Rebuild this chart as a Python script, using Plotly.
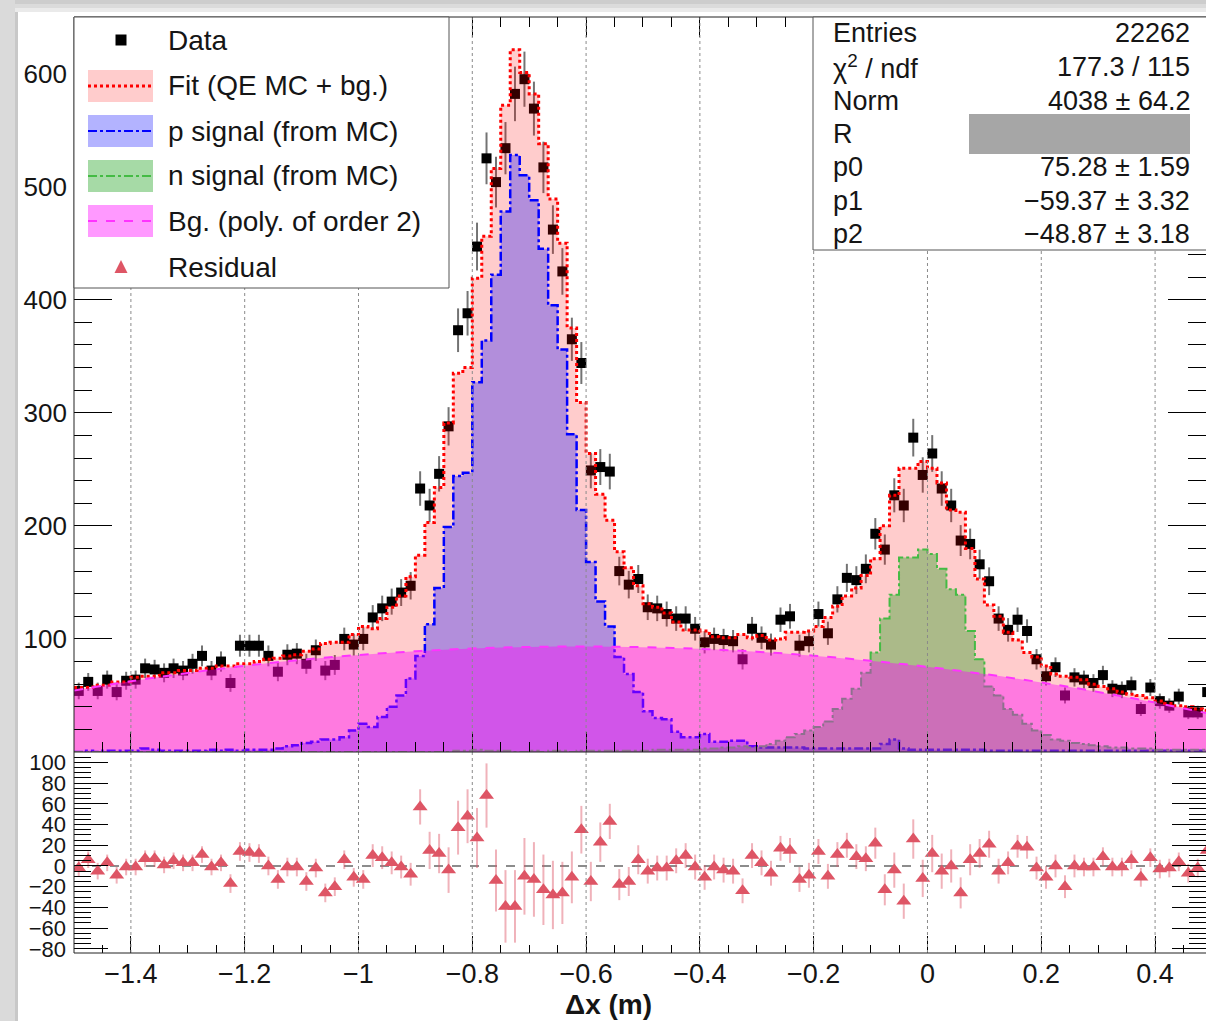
import numpy as np
import plotly.graph_objects as go

# ---------------- data ----------------
XMIN, XMAX, NBINS = -1.5, 0.5, 120
X_VIEW_MAX = 0.4895

DATA = [54, 62, 54, 64, 53, 63, 64, 74, 73, 70,
        74, 72, 78, 85, 72, 80, 61, 94, 94, 94,
        85, 71, 86, 87, 78, 90, 72, 77, 100, 95,
        100, 119, 127, 133, 141, 147, 233, 218, 246, 288,
        373, 388, 447, 525, 504, 534, 582, 595, 569, 517,
        462, 425, 365, 344, 249, 252, 248, 160, 148, 153,
        128, 127, 122, 118, 118, 109, 97, 100, 99, 98,
        82, 109, 101, 95, 117, 120, 94, 98, 122, 105,
        135, 154, 152, 162, 193, 179, 227, 218, 278, 245,
        264, 233, 218, 187, 184, 166, 151, 118, 108, 117,
        107, 82, 67, 75, 50, 66, 64, 61, 68, 56,
        55, 59, 38, 57, 45, 41, 49, 35, 35, 53]

FIT = [57, 57, 59, 59, 62, 62, 66, 67, 67, 70,
       70, 72, 72, 74, 74, 76, 76, 78, 78, 80,
       82, 83, 85, 86, 89, 91, 96, 97, 97, 104,
       111, 109, 118, 128, 138, 155, 174, 203, 234, 291,
       335, 340, 419, 456, 516, 572, 621, 601, 582, 538,
       489, 450, 375, 309, 264, 228, 205, 177, 163, 147,
       131, 128, 123, 115, 108, 108, 107, 102, 101, 101,
       104, 101, 103, 99, 100, 106, 106, 107, 111, 119,
       129, 138, 145, 156, 171, 200, 227, 251, 251, 257,
       251, 238, 214, 212, 180, 153, 130, 120, 106, 99,
       88, 84, 76, 69, 67, 66, 64, 60, 58, 56,
       53, 51, 50, 48, 45, 43, 41, 40, 38, 37]

P_SIG = [0, 1, 0, 1, 1, 1, 1, 3, 2, 1,
         1, 1, 1, 1, 2, 1, 2, 1, 2, 2,
         2, 3, 5, 6, 8, 9, 11, 11, 13, 19,
         25, 22, 31, 40, 50, 65, 85, 113, 145, 199,
         244, 247, 327, 364, 422, 478, 528, 510, 488, 445,
         395, 356, 281, 214, 168, 133, 111, 84, 69, 53,
         36, 30, 29, 18, 13, 13, 16, 9, 9, 10,
         10, 5, 4, 4, 4, 4, 4, 3, 3, 3,
         3, 3, 3, 3, 3, 7, 11, 3, 2, 2,
         2, 2, 2, 2, 2, 2, 1, 1, 1, 1,
         1, 1, 1, 1, 1, 1, 1, 1, 1, 1,
         1, 1, 1, 1, 1, 1, 1, 1, 1, 1]

N_SIG = [0, 0, 0, 0, 0, 0, 0, 0, 0, 0,
         0, 0, 0, 0, 0, 0, 0, 0, 0, 0,
         0, 0, 0, 0, 0, 0, 0, 0, 0, 0,
         0, 0, 0, 0, 0, 0, 0, 0, 0, 0,
         1, 1, 2, 1, 1, 1, 0, 0, 1, 0,
         1, 1, 0, 1, 1, 1, 1, 1, 1, 1,
         1, 2, 2, 2, 2, 2, 3, 3, 4, 4,
         5, 4, 5, 7, 10, 13, 16, 19, 22, 27,
         38, 47, 56, 70, 88, 118, 139, 172, 172, 179,
         175, 162, 144, 139, 107, 82, 58, 50, 38, 33,
         25, 19, 15, 11, 10, 8, 7, 6, 5, 4,
         4, 3, 3, 3, 2, 2, 2, 2, 2, 2]

# background (2nd order polynomial)
BG_X = [-1.5, -1.4, -1.3, -1.2, -1.1, -1.0, -0.9, -0.8, -0.7, -0.6, -0.5,
        -0.4, -0.3, -0.2, -0.1, 0.0, 0.1, 0.2, 0.3, 0.4, 0.5]
BG_Y = [54.4, 62.6, 69.9, 76.2, 81.5, 85.8, 89.1, 91.5, 92.9, 93.3, 92.7,
        91.2, 88.7, 85.2, 80.7, 75.3, 68.9, 61.5, 53.1, 43.7, 33.4]

RESID = [-2, 6, -5, 3, -9, -1, -1, 7, 7, 1,
         5, 3, 3, 11, -1, 3, -17, 14, 13, 12,
         0, -13, -1, -1, -15, -2, -26, -20, 6, -11,
         -13, 10, 8, 3, -1, -8, 57, 15, 12, -4,
         37, 48, 27, 68, -14, -39, -39, -10, -13, -23,
         -28, -26, -11, 35, -15, 23, 43, -18, -15, 6,
         -5, -2, -2, 5, 10, -1, -11, -1, -4, -5,
         -24, 10, 3, -7, 17, 15, -13, -9, 14, -10,
         11, 20, 9, 7, 22, -23, -4, -34, 26, -12,
         12, -5, 0, -26, 6, 12, 21, -5, 3, 19,
         18, -2, -11, 0, -20, 0, -1, -1, 9, -1,
         -1, 6, -11, 8, -3, -2, 4, -7, -2, 15]

RESID_ERR = [8, 8, 8, 8, 8, 8, 8, 8, 8, 8,
             8, 8, 8, 8, 8, 8, 9, 9, 9, 9,
             9, 9, 9, 9, 9, 9, 9, 9, 9, 9,
             9, 11, 11, 11, 11, 11, 17, 18, 19, 22,
             26, 26, 29, 31, 30, 35, 35, 37, 36, 34,
             33, 30, 25, 23, 19, 19, 17, 15, 14, 14,
             12, 12, 12, 12, 12, 12, 12, 12, 12, 12,
             12, 12, 12, 12, 12, 12, 12, 12, 12, 12,
             12, 12, 12, 12, 15, 15, 17, 17, 19, 18,
             18, 17, 16, 15, 15, 14, 13, 12, 11, 11,
             11, 11, 11, 11, 11, 11, 9, 9, 9, 9,
             9, 9, 9, 9, 9, 9, 9, 9, 9, 9]

X_TICKS = [-1.4, -1.2, -1.0, -0.8, -0.6, -0.4, -0.2, 0.0, 0.2, 0.4]
X_TICK_LABELS = ["\u22121.4", "\u22121.2", "\u22121", "\u22120.8", "\u22120.6",
                 "\u22120.4", "\u22120.2", "0", "0.2", "0.4"]
Y_TICKS_MAIN = [100, 200, 300, 400, 500, 600]
Y_TICK_LABELS_MAIN = ["100", "200", "300", "400", "500", "600"]
Y_TICKS_RES = [-80, -60, -40, -20, 0, 20, 40, 60, 80, 100]
Y_TICK_LABELS_RES = ["\u221280", "\u221260", "\u221240", "\u221220", "0",
                     "20", "40", "60", "80", "100"]

LEGEND_LABELS = ["Data", "Fit (QE MC + bg.)", "p signal (from MC)",
                 "n signal (from MC)", "Bg. (poly. of order 2)", "Residual"]
STATS_LABELS = ["Entries", "\u03c7<sup>2</sup> / ndf", "Norm", "R", "p0", "p1", "p2"]
STATS_VALUES = ["22262", "177.3 / 115", "4038 \u00b1 64.2", "",
                "75.28 \u00b1 1.59", "\u221259.37 \u00b1 3.32", "\u221248.87 \u00b1 3.18"]
X_TITLE = "\u0394x (m)"

# ---------------- geometry ----------------
L_PX, R_PX, T_PX, B_PX = 74, 1206, 17, 953
SPLIT_PX = 752
W_PX, H_PX = R_PX - L_PX, B_PX - T_PX


def xp(px):
    return (px - L_PX) / W_PX


def yp(py):
    return (B_PX - py) / H_PX


MAIN_Y0 = yp(SPLIT_PX)

bw = (XMAX - XMIN) / NBINS
centers = XMIN + (np.arange(NBINS) + 0.5) * bw
edges = XMIN + np.arange(NBINS + 1) * bw


def step_y(vals):
    return list(vals) + [vals[-1]]


FONT = "Liberation Sans, Arial, Helvetica, sans-serif"
TXT = "#151515"

fig = go.Figure()

# data (drawn first, fills are semi-transparent on top like the original)
fig.add_trace(go.Scatter(
    x=centers, y=DATA, mode="markers",
    marker=dict(symbol="square", size=10, color="black"),
    error_y=dict(type="data", array=np.sqrt(np.array(DATA, dtype=float)),
                 color="rgba(0,0,0,0.55)", thickness=2, width=0),
    xaxis="x", yaxis="y", showlegend=False))

fig.add_trace(go.Scatter(
    x=edges, y=step_y(FIT), mode="lines", line_shape="hv",
    line=dict(color="#FF0000", width=3, dash="dot"),
    fill="tozeroy", fillcolor="rgba(255,0,0,0.2)",
    xaxis="x", yaxis="y", showlegend=False))

fig.add_trace(go.Scatter(
    x=edges, y=step_y(P_SIG), mode="lines", line_shape="hv",
    line=dict(color="#0000FF", width=2.5, dash="dashdot"),
    fill="tozeroy", fillcolor="rgba(0,0,255,0.3)",
    xaxis="x", yaxis="y", showlegend=False))

fig.add_trace(go.Scatter(
    x=edges, y=step_y(N_SIG), mode="lines", line_shape="hv",
    line=dict(color="#44BB44", width=2, dash="dashdot"),
    fill="tozeroy", fillcolor="rgba(0,150,0,0.33)",
    xaxis="x", yaxis="y", showlegend=False))

fig.add_trace(go.Scatter(
    x=BG_X, y=BG_Y, mode="lines",
    line=dict(color="#FF33FF", width=2, dash="dash", shape="spline"),
    fill="tozeroy", fillcolor="rgba(255,0,255,0.4)",
    xaxis="x", yaxis="y", showlegend=False))

# residual panel
fig.add_trace(go.Scatter(
    x=[XMIN, XMAX], y=[0, 0], mode="lines",
    line=dict(color="#8C8C8C", width=2, dash="dash"),
    xaxis="x2", yaxis="y2", showlegend=False))

fig.add_trace(go.Scatter(
    x=centers, y=RESID, mode="markers",
    marker=dict(symbol="triangle-up", size=13, color="#DE5565"),
    error_y=dict(type="data", array=RESID_ERR,
                 color="rgba(222,85,101,0.45)", thickness=2, width=0),
    xaxis="x2", yaxis="y2", showlegend=False))

shapes = []
# page shadow (left and top)
shapes.append(dict(type="rect", xref="paper", yref="paper",
                   x0=xp(0), x1=xp(15), y0=yp(1021), y1=yp(0),
                   fillcolor="#DADADA", line=dict(width=0), layer="above"))
shapes.append(dict(type="rect", xref="paper", yref="paper",
                   x0=xp(15), x1=xp(18), y0=yp(1021), y1=yp(0),
                   fillcolor="#C8C8C8", line=dict(width=0), layer="above"))
for (a, b, c) in [(0, 4, "#CDCDCD"), (4, 8, "#DBDBDB"), (8, 12, "#EAEAEA")]:
    shapes.append(dict(type="rect", xref="paper", yref="paper",
                       x0=xp(15), x1=xp(1206), y0=yp(b), y1=yp(a),
                       fillcolor=c, line=dict(width=0), layer="above"))

# vertical grid (above the fills, like ROOT)
for xv in X_TICKS:
    for yr in ("y domain", "y2 domain"):
        shapes.append(dict(type="line", xref="x" if yr == "y domain" else "x2",
                           yref=yr, x0=xv, x1=xv, y0=0, y1=1,
                           line=dict(color="#8A8A8A", width=1, dash="dot"),
                           layer="above"))

# frame
FR = dict(color="#222222", width=1)
shapes.append(dict(type="line", xref="paper", yref="paper", x0=0, x1=0, y0=0, y1=1, line=FR, layer="above"))
shapes.append(dict(type="line", xref="paper", yref="paper", x0=0, x1=1, y0=1, y1=1, line=FR, layer="above"))
shapes.append(dict(type="line", xref="paper", yref="paper", x0=0, x1=1, y0=0, y1=0, line=FR, layer="above"))
shapes.append(dict(type="line", xref="paper", yref="paper", x0=0, x1=1, y0=MAIN_Y0, y1=MAIN_Y0, line=FR, layer="above"))

# legend box
shapes.append(dict(type="rect", xref="paper", yref="paper",
                   x0=xp(74), x1=xp(449), y0=yp(288), y1=yp(17),
                   fillcolor="white", line=dict(color="#555555", width=1), layer="above"))
ROW_Y = [40, 86, 131, 176, 221, 267]
PATCHES = [None,
           ("#FFCCCC", "#FF0000", "dot", 3),
           ("#B3B3FF", "#0000FF", "dashdot", 2),
           ("#A6DAA6", "#44BB44", "dashdot", 2),
           ("#FF99FF", "#FF33FF", "dash", 2),
           None]
for i, pat in enumerate(PATCHES):
    if pat is None:
        continue
    fc, lc, ds, lw = pat
    yc = ROW_Y[i]
    shapes.append(dict(type="rect", xref="paper", yref="paper",
                       x0=xp(88), x1=xp(153), y0=yp(yc + 16), y1=yp(yc - 16),
                       fillcolor=fc, line=dict(width=0), layer="above"))
    shapes.append(dict(type="line", xref="paper", yref="paper",
                       x0=xp(88), x1=xp(153), y0=yp(yc), y1=yp(yc),
                       line=dict(color=lc, width=lw, dash=ds), layer="above"))
# data marker in legend
shapes.append(dict(type="rect", xref="paper", yref="paper",
                   x0=xp(115.5), x1=xp(126.5), y0=yp(ROW_Y[0] + 5.5), y1=yp(ROW_Y[0] - 5.5),
                   fillcolor="black", line=dict(width=0), layer="above"))
# residual marker in legend
ty = ROW_Y[5]
shapes.append(dict(type="path", xref="paper", yref="paper",
                   path="M {} {} L {} {} L {} {} Z".format(
                       xp(114.5), yp(ty + 6), xp(127.5), yp(ty + 6), xp(121), yp(ty - 7)),
                   fillcolor="#DE5565", line=dict(width=0), layer="above"))

# stats box
shapes.append(dict(type="rect", xref="paper", yref="paper",
                   x0=xp(813), x1=xp(1230), y0=yp(250), y1=yp(17),
                   fillcolor="white", line=dict(color="#555555", width=1), layer="above"))
shapes.append(dict(type="rect", xref="paper", yref="paper",
                   x0=xp(969), x1=xp(1190), y0=yp(154), y1=yp(114),
                   fillcolor="#A6A6A6", line=dict(width=0), layer="above"))

annotations = []
for i, lab in enumerate(LEGEND_LABELS):
    annotations.append(dict(xref="paper", yref="paper", x=xp(166), y=yp(ROW_Y[i]),
                            text=lab, showarrow=False, xanchor="left", yanchor="middle",
                            font=dict(family=FONT, size=28, color=TXT)))
STAT_Y = [33, 67, 101, 134, 167, 201, 234]
for i, (lab, val) in enumerate(zip(STATS_LABELS, STATS_VALUES)):
    annotations.append(dict(xref="paper", yref="paper", x=xp(831), y=yp(STAT_Y[i]),
                            text=lab, showarrow=False, xanchor="left", yanchor="middle",
                            font=dict(family=FONT, size=27, color=TXT)))
    if val:
        annotations.append(dict(xref="paper", yref="paper", x=xp(1192), y=yp(STAT_Y[i]),
                                text=val, showarrow=False, xanchor="right", yanchor="middle",
                                font=dict(family=FONT, size=27, color=TXT)))
annotations.append(dict(xref="paper", yref="paper", x=xp(608), y=yp(1004),
                        text="<b>" + X_TITLE + "</b>", showarrow=False,
                        xanchor="center", yanchor="middle",
                        font=dict(family=FONT, size=28, color=TXT)))

AX = dict(showgrid=False, zeroline=False, showline=False, tickcolor="black",
          tickwidth=1, ticks="inside")

fig.update_layout(
    width=1206, height=1021,
    margin=dict(l=L_PX, r=0, t=T_PX, b=1021 - B_PX, pad=0),
    paper_bgcolor="white", plot_bgcolor="white",
    showlegend=False,
    font=dict(family=FONT, color=TXT),
    xaxis=dict(AX, domain=[0, 1], range=[XMIN, X_VIEW_MAX], anchor="y",
               showticklabels=False, tickmode="array", tickvals=X_TICKS,
               ticklen=20, mirror="allticks",
               minor=dict(tickmode="linear", tick0=XMIN, dtick=0.05, ticks="inside",
                          ticklen=10, tickcolor="black")),
    yaxis=dict(AX, domain=[MAIN_Y0, 1], range=[0, 650], anchor="x",
               tickmode="array", tickvals=Y_TICKS_MAIN, ticktext=Y_TICK_LABELS_MAIN,
               ticklen=38, mirror="allticks", tickfont=dict(size=26),
               ticklabelstandoff=6,
               minor=dict(tickmode="linear", tick0=0, dtick=20, ticks="inside",
                          ticklen=18, tickcolor="black")),
    xaxis2=dict(AX, domain=[0, 1], range=[XMIN, X_VIEW_MAX], anchor="y2",
                tickmode="array", tickvals=X_TICKS, ticktext=X_TICK_LABELS,
                ticklen=17, tickfont=dict(size=27), ticklabelstandoff=2,
                minor=dict(tickmode="linear", tick0=XMIN, dtick=0.05, ticks="inside",
                           ticklen=8, tickcolor="black")),
    yaxis2=dict(AX, domain=[0, MAIN_Y0], range=[-84, 110], anchor="x2",
                tickmode="array", tickvals=Y_TICKS_RES, ticktext=Y_TICK_LABELS_RES,
                ticklen=34, mirror="allticks", tickfont=dict(size=22),
                ticklabelstandoff=7,
                minor=dict(tickmode="linear", tick0=0, dtick=5, ticks="inside",
                           ticklen=17, tickcolor="black")),
    shapes=shapes,
    annotations=annotations,
)

fig.write_html("out.html")
